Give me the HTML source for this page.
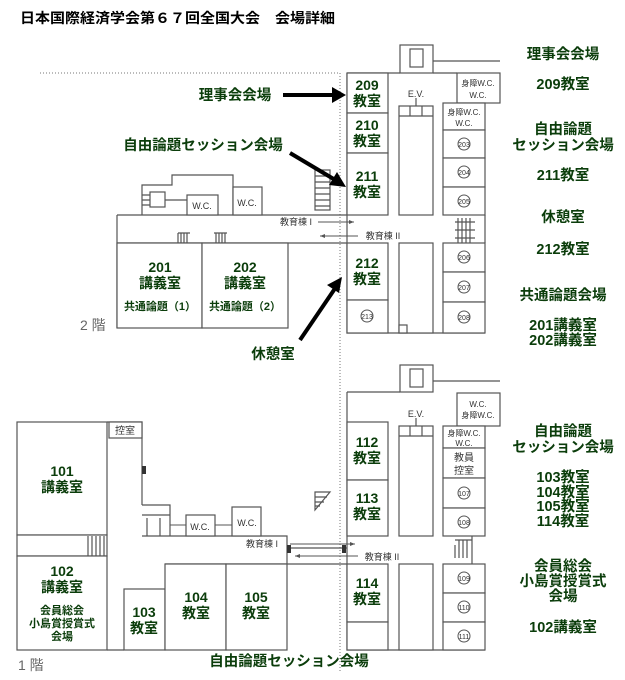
<!DOCTYPE html>
<html><head><meta charset="utf-8"><style>
html,body{margin:0;padding:0;background:#fff}
svg{display:block}
text{font-family:"Liberation Sans","Noto Sans CJK JP",sans-serif}
.g{fill:#0b3d0b;font-weight:bold;font-size:14.5px;text-anchor:middle}
.g.sm{font-size:11px}
.r{fill:#0b3d0b;font-weight:bold;font-size:14px;text-anchor:middle}
.s{fill:#333;font-size:9px;text-anchor:middle}
.s.t8{font-size:8px}
.s.t10{font-size:10px}
.w{fill:none;stroke:#555;stroke-width:1.2}
.f{fill:#fff;stroke:#555;stroke-width:1.2}
</style></head><body>
<svg width="625" height="680" viewBox="0 0 625 680" xmlns="http://www.w3.org/2000/svg">
<rect width="625" height="680" fill="#fff"/>
<text x="20" y="23" font-size="14" font-weight="bold" fill="#000" textLength="315" lengthAdjust="spacingAndGlyphs">日本国際経済学会第６７回全国大会　会場詳細</text>

<line x1="40" y1="73" x2="340" y2="73" stroke="#777" stroke-dasharray="1,2"/>
<line x1="340" y1="73" x2="340" y2="672" stroke="#777" stroke-dasharray="1,2"/>

<!-- ===== 2F right building ===== -->
<rect x="400" y="45" width="33" height="28" class="f"/>
<rect x="410" y="49" width="13" height="18" class="f"/>
<path d="M433 61 H500 M433 73 H457" class="w"/>
<path d="M347 73 H400 M347 73 V333 H485" class="w"/>
<rect x="347" y="73" width="41" height="40" class="f"/>
<rect x="347" y="113" width="41" height="40" class="f"/>
<rect x="347" y="153" width="41" height="62" class="f"/>
<rect x="347" y="243" width="41" height="57" class="f"/>
<rect x="347" y="300" width="41" height="33" class="f"/>
<rect x="399" y="106" width="34" height="109" class="f"/>
<path d="M399 116 H433 M410 106 V116 M422 106 V116 M416 98 V106" class="w"/>
<rect x="399" y="243" width="34" height="90" class="f"/>
<rect x="399" y="325" width="8" height="8" class="f"/>
<rect x="457" y="73" width="43" height="30" class="f"/>
<rect x="443" y="103" width="42" height="27" class="f"/>
<rect x="443" y="130" width="42" height="28" class="f"/>
<rect x="443" y="158" width="42" height="29" class="f"/>
<rect x="443" y="187" width="42" height="28" class="f"/>
<rect x="443" y="243" width="42" height="29" class="f"/>
<rect x="443" y="272" width="42" height="30" class="f"/>
<rect x="443" y="302" width="42" height="31" class="f"/>
<path d="M485 215 V243 M455 222 H475 M455 230 H475 M455 238 H475 M458 218 V243 M462 218 V243 M466 218 V243 M470 218 V243" class="w" stroke-width="0.8"/>
<text x="416" y="97" class="s">E.V.</text>
<text x="478" y="86" class="s t8">身障W.C.</text>
<text x="478" y="98" class="s t8">W.C.</text>
<text x="464" y="115" class="s t8">身障W.C.</text>
<text x="464" y="126" class="s t8">W.C.</text>
<g fill="none" stroke="#555"><circle cx="464" cy="144" r="6"/><circle cx="464" cy="172" r="6"/><circle cx="464" cy="201" r="6"/><circle cx="464" cy="257" r="6"/><circle cx="464" cy="287" r="6"/><circle cx="464" cy="317" r="6"/><circle cx="367" cy="316" r="6"/></g>
<g font-size="7" fill="#333" text-anchor="middle"><text x="464" y="147">203</text><text x="464" y="175">204</text><text x="464" y="204">205</text><text x="464" y="260">206</text><text x="464" y="290">207</text><text x="464" y="320">208</text><text x="367" y="319">213</text></g>
<text x="367" y="90" class="r">209</text><text x="367" y="106" class="r">教室</text>
<text x="367" y="130" class="r">210</text><text x="367" y="146" class="r">教室</text>
<text x="367" y="181" class="r">211</text><text x="367" y="197" class="r">教室</text>
<text x="367" y="268" class="r">212</text><text x="367" y="284" class="r">教室</text>

<!-- ===== 2F left wing ===== -->
<path d="M117 215 H347 M117 215 V328 M117 243 H347" class="w"/>
<rect x="117" y="243" width="85" height="85" class="f"/>
<rect x="202" y="243" width="86" height="85" class="f"/>
<path d="M142 215 V185 H172 V175 H233 V215" class="w"/>
<rect x="150" y="192" width="15" height="15" class="f"/>
<path d="M142 195 H150 M142 200 H150 M142 205 H150 M165 200 H187" class="w"/>
<rect x="187" y="195" width="31" height="20" class="f"/>
<rect x="233" y="187" width="29" height="28" class="f"/>
<text x="202" y="209" class="s">W.C.</text><text x="247" y="206" class="s">W.C.</text>
<rect x="315" y="170" width="15" height="40" class="f"/>
<path d="M315 176 H330 M315 182 H330 M315 188 H330 M315 194 H330 M315 200 H330 M315 206 H330" class="w" stroke-width="0.8"/>
<path d="M178 233 V243 M181 233 V243 M184 233 V243 M187 233 V243 M178 233 H190 M216 233 V243 M219 233 V243 M222 233 V243 M225 233 V243 M214 233 H227" class="w" stroke-width="0.8"/>
<text x="296" y="225" class="s">教育棟 I</text>
<path d="M318 222 H354" stroke="#555"/><path d="M354 222 l-5 -2 v4z" fill="#555"/>
<text x="383" y="239" class="s">教育棟 II</text>
<path d="M320 236 H358" stroke="#555"/><path d="M320 236 l5 -2 v4z" fill="#555"/>
<text x="160" y="272" class="r">201</text><text x="160" y="288" class="r">講義室</text>
<text x="245" y="272" class="r">202</text><text x="245" y="288" class="r">講義室</text>
<text x="160" y="310" class="g sm">共通論題（1）</text>
<text x="245" y="310" class="g sm">共通論題（2）</text>
<text x="80" y="330" font-size="14" fill="#666">2 階</text>

<!-- ===== 1F right building ===== -->
<rect x="400" y="365" width="33" height="27" class="f"/>
<rect x="410" y="369" width="13" height="18" class="f"/>
<path d="M433 381 H500 M347 392 H400 M347 392 V650 H485" class="w"/>
<rect x="347" y="422" width="41" height="58" class="f"/>
<rect x="347" y="480" width="41" height="56" class="f"/>
<rect x="347" y="564" width="41" height="58" class="f"/>
<rect x="347" y="622" width="41" height="28" class="f"/>
<rect x="399" y="426" width="34" height="110" class="f"/>
<path d="M399 436 H433 M410 426 V436 M422 426 V436 M416 418 V426" class="w"/>
<rect x="399" y="564" width="34" height="86" class="f"/>
<rect x="457" y="393" width="43" height="33" class="f"/>
<rect x="443" y="426" width="42" height="22" class="f"/>
<rect x="443" y="448" width="42" height="30" class="f"/>
<rect x="443" y="478" width="42" height="30" class="f"/>
<rect x="443" y="508" width="42" height="28" class="f"/>
<rect x="443" y="564" width="42" height="29" class="f"/>
<rect x="443" y="593" width="42" height="29" class="f"/>
<rect x="443" y="622" width="42" height="28" class="f"/>
<path d="M472 536 V564 M455 540 H472 M455 545 V558 M459 540 V558 M463 540 V558 M467 540 V558" class="w" stroke-width="0.8"/>
<text x="416" y="417" class="s">E.V.</text>
<text x="478" y="407" class="s t8">W.C.</text>
<text x="478" y="418" class="s t8">身障W.C.</text>
<text x="464" y="436" class="s t8">身障W.C.</text>
<text x="464" y="446" class="s t8">W.C.</text>
<text x="464" y="461" class="s t10">教員</text>
<text x="464" y="474" class="s t10">控室</text>
<g fill="none" stroke="#555"><circle cx="464" cy="493" r="6"/><circle cx="464" cy="522" r="6"/><circle cx="464" cy="578" r="6"/><circle cx="464" cy="607" r="6"/><circle cx="464" cy="636" r="6"/></g>
<g font-size="7" fill="#333" text-anchor="middle"><text x="464" y="496">107</text><text x="464" y="525">108</text><text x="464" y="581">109</text><text x="464" y="610">110</text><text x="464" y="639">111</text></g>
<text x="367" y="447" class="r">112</text><text x="367" y="463" class="r">教室</text>
<text x="367" y="503" class="r">113</text><text x="367" y="519" class="r">教室</text>
<text x="367" y="588" class="r">114</text><text x="367" y="604" class="r">教室</text>
<path d="M315 492 H330 L315 510 Z" class="f"/>
<path d="M315 497 H327 M315 502 H324 M315 506 H320" class="w" stroke-width="0.8"/>

<!-- ===== 1F left ===== -->
<rect x="17" y="422" width="90" height="113" class="f"/>
<rect x="17" y="535" width="90" height="21" class="f"/>
<path d="M88 536 V556 M92 536 V556 M96 536 V556 M100 536 V556 M104 536 V556" class="w" stroke-width="0.8"/>
<rect x="17" y="556" width="90" height="94" class="f"/>
<path d="M107 422 H142 V505 M142 536 H287 V564 M107 650 H124 M165 564 H287 M287 548 H347 M287 564 H347" class="w"/>
<rect x="109" y="422" width="33" height="16" class="f"/>
<text x="125" y="434" class="s t10">控室</text>
<path d="M142 505 H170 V536 M142 515 H170 M147 518 V536 M160 518 V536" class="w"/>
<line x1="170" y1="525" x2="186" y2="525" stroke="#555"/>
<rect x="186" y="515" width="29" height="21" class="f"/>
<line x1="215" y1="525" x2="232" y2="525" stroke="#555"/>
<rect x="232" y="507" width="29" height="29" class="f"/>
<text x="200" y="530" class="s">W.C.</text><text x="247" y="526" class="s">W.C.</text>
<rect x="124" y="589" width="41" height="61" class="f"/>
<rect x="165" y="564" width="61" height="86" class="f"/>
<rect x="226" y="564" width="61" height="86" class="f"/>
<rect x="142" y="466" width="4" height="8" fill="#333"/>
<rect x="287" y="545" width="4" height="8" fill="#333"/>
<rect x="342" y="545" width="4" height="8" fill="#333"/>
<text x="262" y="547" class="s">教育棟 I</text>
<path d="M290 544 H355" stroke="#555"/><path d="M355 544 l-5 -2 v4z" fill="#555"/>
<text x="382" y="560" class="s">教育棟 II</text>
<path d="M295 556 H358" stroke="#555"/><path d="M295 556 l5 -2 v4z" fill="#555"/>
<text x="62" y="476" class="r">101</text><text x="62" y="492" class="r">講義室</text>
<text x="62" y="576" class="r">102</text><text x="62" y="592" class="r">講義室</text>
<text x="62" y="614" class="g sm">会員総会</text>
<text x="62" y="627" class="g sm">小島賞授賞式</text>
<text x="62" y="640" class="g sm">会場</text>
<text x="144" y="617" class="r">103</text><text x="144" y="633" class="r">教室</text>
<text x="196" y="602" class="r">104</text><text x="196" y="618" class="r">教室</text>
<text x="256" y="602" class="r">105</text><text x="256" y="618" class="r">教室</text>
<text x="18" y="670" font-size="14" fill="#666">1 階</text>
<text x="289" y="666" class="g">自由論題セッション会場</text>

<!-- arrows -->
<text x="235" y="100" class="g">理事会会場</text>
<path d="M283 95 H336" stroke="#000" stroke-width="4"/><path d="M346 95 l-14 -8 v16z" fill="#000"/>
<text x="203" y="150" class="g">自由論題セッション会場</text>
<path d="M290 153 L337 181" stroke="#000" stroke-width="4"/><path d="M346 187 l-9 -15 l-8 13z" fill="#000"/>
<text x="273" y="359" class="g">休憩室</text>
<path d="M300 340 L336 287" stroke="#000" stroke-width="4"/><path d="M342 277 l-15 8 l12 8z" fill="#000"/>

<!-- right legend -->
<text x="563" y="59" class="g">理事会会場</text>
<text x="563" y="89" class="g">209教室</text>
<text x="563" y="134" class="g">自由論題</text>
<text x="563" y="150" class="g">セッション会場</text>
<text x="563" y="180" class="g">211教室</text>
<text x="563" y="222" class="g">休憩室</text>
<text x="563" y="254" class="g">212教室</text>
<text x="563" y="300" class="g">共通論題会場</text>
<text x="563" y="330" class="g">201講義室</text>
<text x="563" y="345" class="g">202講義室</text>
<text x="563" y="436" class="g">自由論題</text>
<text x="563" y="452" class="g">セッション会場</text>
<text x="563" y="482" class="g">103教室</text>
<text x="563" y="497" class="g">104教室</text>
<text x="563" y="511" class="g">105教室</text>
<text x="563" y="526" class="g">114教室</text>
<text x="563" y="571" class="g">会員総会</text>
<text x="563" y="586" class="g">小島賞授賞式</text>
<text x="563" y="601" class="g">会場</text>
<text x="563" y="632" class="g">102講義室</text>
</svg>
</body></html>
